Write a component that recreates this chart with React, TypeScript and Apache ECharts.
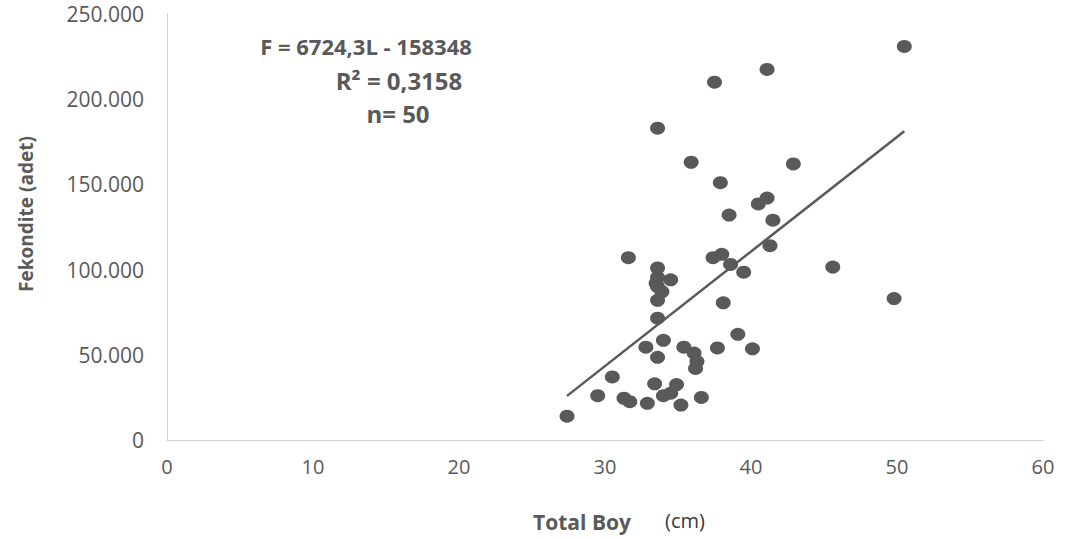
import React, { useEffect, useRef } from "react";
import * as echarts from "echarts";

// Total Boy (cm)
const totalBoy: number[] = [
  50.5, 41.1, 37.5, 33.6, 35.9, 42.9, 37.9,
  41.1, 40.5, 38.5, 41.5, 41.3, 38.0, 37.4, 31.6, 38.6, 39.5, 45.6,
  33.6, 33.6, 34.5, 33.5, 33.6, 33.9, 33.6, 38.1, 49.8, 33.6, 39.1,
  34.0, 40.1, 32.8, 37.7, 35.4, 33.6, 36.1, 36.3, 36.2, 30.5, 29.5,
  31.3, 31.7, 33.4, 34.9, 34.5, 34.0, 32.9, 35.2, 36.6, 27.4,
];
// Fekondite (adet)
const fekondite: number[] = [
  231000, 217500, 210000, 183000, 163000, 162000, 151000,
  142000, 138500, 132000, 129000, 114000, 109000, 107000, 107000, 103000, 98500, 101500,
  101000, 95500, 94000, 92000, 90000, 87000, 82000, 80500, 83000, 71500, 62000,
  58500, 53500, 54500, 54000, 54500, 48500, 51000, 46000, 42000, 37000, 26000,
  24500, 22500, 33000, 32500, 27500, 26000, 21500, 20500, 25000, 14000,
];

const slope = 6724.3;
const intercept = -158348;
const equationLines = ["F = 6724,3L - 158348", "R² = 0,3158", "n= 50"];
const xTicks = { min: 0, max: 60, interval: 10 };
const yTicks = { min: 0, max: 250000, interval: 50000 };

function fmtThousands(v: number): string {
  const s = Math.round(v).toString();
  return s.replace(/\B(?=(\d{3})+(?!\d))/g, ".");
}

export default function App() {
  const ref = useRef<HTMLDivElement>(null);
  useEffect(() => {
    if (!ref.current) return;
    const chart = echarts.init(ref.current, undefined, { renderer: "svg" });
    const pts = totalBoy.map((x, i) => [x, fekondite[i]]);
    const xMin = Math.min(...totalBoy);
    const xMax = Math.max(...totalBoy);
    const trend = [
      [xMin, slope * xMin + intercept],
      [xMax, slope * xMax + intercept],
    ];
    const gray = "#595959";
    const eqFont = "bold 22px 'Open Sans'";
    const eqFont2 = "bold 24px 'Open Sans'";
    chart.setOption({
      animation: false,
      backgroundColor: "#ffffff",
      grid: { left: 167, right: 25, top: 14, bottom: 99, containLabel: false },
      xAxis: {
        type: "value",
        min: xTicks.min,
        max: xTicks.max,
        interval: xTicks.interval,
        axisLine: { show: true, lineStyle: { color: "#d0d0d0", width: 1 } },
        axisTick: { show: false },
        splitLine: { show: false },
        axisLabel: {
          color: gray,
          fontFamily: "Open Sans",
          fontSize: 20,
          margin: 16,
        },
      },
      yAxis: {
        type: "value",
        min: yTicks.min,
        max: yTicks.max,
        interval: yTicks.interval,
        axisLine: { show: true, lineStyle: { color: "#d0d0d0", width: 1 } },
        axisTick: { show: false },
        splitLine: { show: false },
        axisLabel: {
          color: gray,
          fontFamily: "Open Sans",
          fontSize: 21,
          margin: 23,
          formatter: (v: number) => fmtThousands(v),
        },
      },
      series: [
        {
          type: "scatter",
          data: pts,
          symbol: "circle",
          symbolSize: [15, 13],
          itemStyle: { color: gray, opacity: 1 },
          z: 3,
        },
        {
          type: "line",
          data: trend,
          symbol: "none",
          lineStyle: { color: gray, width: 2.5 },
          z: 2,
        },
      ],
      graphic: [
        {
          type: "text",
          x: 366,
          y: 46,
          style: {
            text: equationLines[0],
            fill: gray,
            font: eqFont,
            align: "center",
            verticalAlign: "middle",
          },
        },
        {
          type: "text",
          x: 399,
          y: 80,
          style: {
            text: equationLines[1],
            fill: gray,
            font: eqFont2,
            align: "center",
            verticalAlign: "middle",
          },
        },
        {
          type: "text",
          x: 398,
          y: 113,
          style: {
            text: equationLines[2],
            fill: gray,
            font: eqFont2,
            align: "center",
            verticalAlign: "middle",
          },
        },
        {
          type: "text",
          x: 26,
          y: 214,
          rotation: Math.PI / 2,
          style: {
            text: "Fekondite (adet)",
            fill: gray,
            font: "bold 19px 'Open Sans'",
            align: "center",
            verticalAlign: "middle",
          },
        },
        {
          type: "text",
          x: 582,
          y: 522,
          style: {
            text: "Total Boy",
            fill: gray,
            font: "bold 21px 'Open Sans'",
            align: "center",
            verticalAlign: "middle",
          },
        },
        {
          type: "text",
          x: 685,
          y: 520,
          style: {
            text: "(cm)",
            fill: "#3a3a3a",
            font: "20px 'Open Sans'",
            align: "center",
            verticalAlign: "middle",
          },
        },
      ],
    });
    return () => chart.dispose();
  }, []);
  return (
    <div
      ref={ref}
      style={{ position: "fixed", left: 0, top: 0, width: 1068, height: 539 }}
    />
  );
}
